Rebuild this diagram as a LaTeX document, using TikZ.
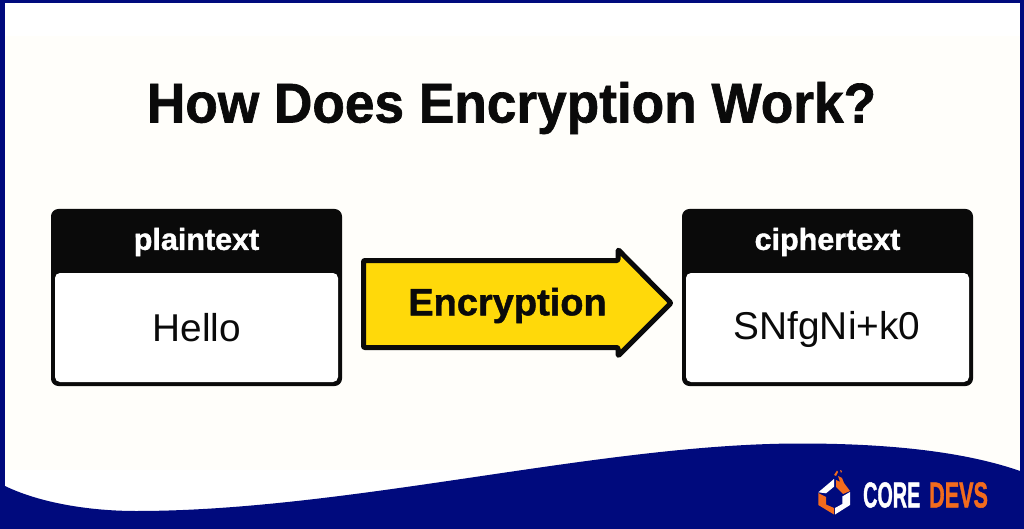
\documentclass[tikz,border=0pt]{standalone}
\usepackage{fontspec}
\setmainfont[BoldFeatures={FakeBold=1.2}]{Liberation Sans}
\newfontfamily\logofont[FakeBold=1.5]{Liberation Sans Bold}
\definecolor{navy}{HTML}{000A7D}
\definecolor{cream}{HTML}{FFFEFA}
\definecolor{inkb}{HTML}{0A0A0A}
\definecolor{yel}{HTML}{FFD90A}
\definecolor{org}{HTML}{F26B1D}
\tikzset{
  boxhead/.style={fill=inkb,draw=inkb,line width=1pt,rounded corners=7pt},
  boxbody/.style={fill=white,rounded corners=5pt},
  headtext/.style={text=white,font=\bfseries\fontsize{30.5}{36}\selectfont},
  bodytext/.style={text=inkb,font=\fontsize{38.8}{46}\selectfont},
  logotext/.style={font=\logofont\fontsize{36}{40}\selectfont,inner sep=0pt,anchor=west},
}
\begin{document}
\begin{tikzpicture}[x=1pt,y=-1pt]
\useasboundingbox (0,0) rectangle (1024,529);
\fill[navy] (0,0) rectangle (1024,529);
\fill[white] (5,3) rectangle (1020,515);
\fill[cream] (5,36) rectangle (1020,470);
\fill[navy] (0,529) -- (0,484) -- (5,486) .. controls (40,503) and (90,511) .. (136,511)
  .. controls (350,511) and (600,443.5) .. (800,443.5)
  .. controls (880,443.5) and (960,450) .. (1020,471) -- (1024,471) -- (1024,529) -- cycle;
\node[text=inkb,font=\bfseries\fontsize{56}{64}\selectfont,xscale=.95] (title) at (511.5,108) {How Does Encryption Work?};

\fill[boxhead] (51.5,209.5) rectangle (341.5,385.5);
\fill[boxbody] (55,273) rectangle (338,382);
\node[headtext] (ph) at (196.5,242) {plaintext};
\node[bodytext] (pb) at (197,327.5) {Hello};

\fill[boxhead] (682.5,209.5) rectangle (972.5,385.5);
\fill[boxbody] (686,273) rectangle (969,382);
\node[headtext] (ch) at (827.5,242) {ciphertext};
\node[bodytext] (cb) at (827,329) {SNfgNi+k0};

\draw[fill=yel,draw=inkb,line width=5pt,line join=round,rounded corners=1pt]
  (363.5,260.5) -- (618,260.5) -- (618,249.5) -- (671,303) -- (618,356) -- (618,347.5) -- (363.5,347.5) -- cycle;
\node[text=inkb,font=\bfseries\fontsize{38}{44}\selectfont] (enc) at (507.5,305.5) {Encryption};

% logo
\fill[white] (818.3,492.3) -- (834,479) -- (834,486.7) -- (826,493.3) -- cycle;
\fill[org] (818.3,493) -- (826,497) -- (826,504.5) -- (834,508) -- (834,514.5) -- (818.3,505) -- cycle;
\fill[white] (835,514.5) -- (850,505) -- (850,492) -- (842.3,496.5) -- (842.3,504) -- (835,508) -- cycle;
\fill[org] (836,487) -- (836,480) -- (840,482) -- (838,476) -- (842,478) -- (844,483) -- (850,491) -- (843,494) -- cycle;
\fill[org] (834,475) -- (837,470.5) -- (838,472) -- (836,476) -- cycle;
\fill[org] (840,470) -- (842,471) -- (841,473) -- cycle;
\node[logotext,text=white,xscale=.55] (core) at (863,495) {CORE};
\node[logotext,text=org,xscale=.6] (devs) at (929,495) {DEVS};
\end{tikzpicture}
\end{document}
